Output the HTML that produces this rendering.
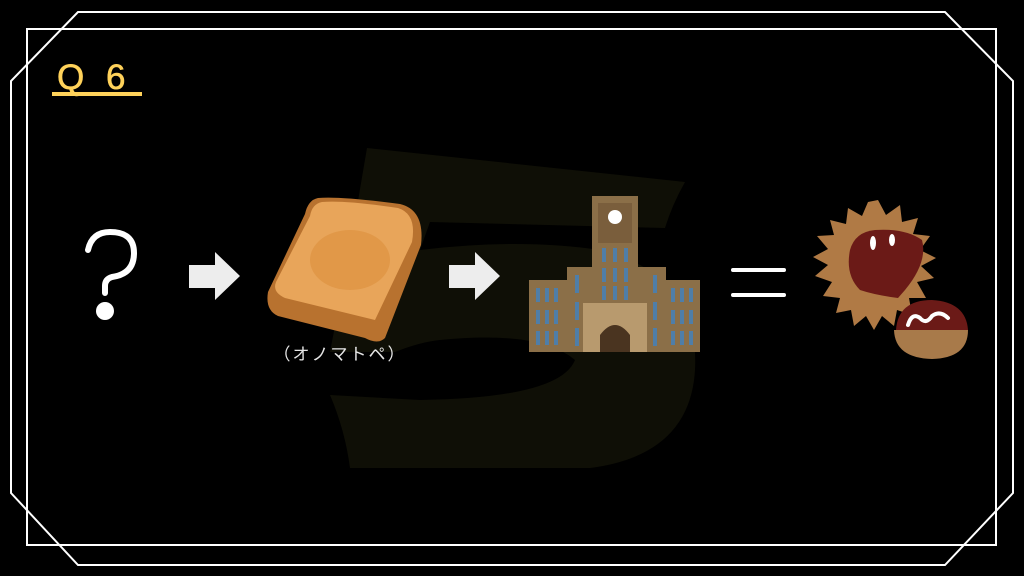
<!DOCTYPE html>
<html><head><meta charset="utf-8"><style>
html,body{margin:0;padding:0;background:#000;}
svg{display:block}
</style></head><body>
<svg width="1024" height="576" viewBox="0 0 1024 576" xmlns="http://www.w3.org/2000/svg">
<rect width="1024" height="576" fill="#000"/>
<!-- background 5 -->
<path d="M367 148 L685 182 Q672 205 665 228 L430 222 L420 250 Q520 238 600 250 Q700 275 695 370 Q690 455 590 468 L350 468 Q345 430 330 395 L420 400 Q560 398 575 360 Q540 330 440 340 Q420 342 395 352 L330 352 Q350 250 367 148 Z" fill="#0f0f06"/>
<!-- frames -->
<polygon points="78,12 945,12 1013,81 1013,493 945,565 78,565 11,493 11,81" fill="none" stroke="#fff" stroke-width="2"/>
<rect x="27" y="29" width="969" height="516" fill="none" stroke="#fff" stroke-width="2"/>
<!-- Q6 -->
<text x="57" y="89" font-family="Liberation Sans, sans-serif" font-size="35" fill="#ffd25a" stroke="#ffd25a" stroke-width="0.6" letter-spacing="6">Q 6</text>
<rect x="52" y="92" width="90" height="4" fill="#ffd25a"/>
<!-- question mark -->
<path d="M88 250 Q92 232 110 232 Q134 232 134 253 Q134 274 112 277 Q105 279 105 286 L105 293" fill="none" stroke="#fff" stroke-width="6" stroke-linecap="round"/>
<circle cx="105" cy="311" r="9" fill="#fff"/>
<!-- arrows -->
<polygon points="189,265 215,265 215,252 240,276 215,300 215,288 189,288" fill="#ededed"/>
<polygon points="449,265 475,265 475,252 500,276 475,300 475,288 449,288" fill="#ededed"/>
<!-- toast -->
<g>
<path d="M318 198 Q340 196 400 204 Q425 210 421 245 L385 338 Q378 345 365 338 L278 316 Q265 310 268 292 L305 214 Q308 200 318 198 Z" fill="#b8722f"/>
<path d="M322 202 Q345 200 398 208 Q417 214 412 242 L375 320 L285 298 Q272 292 276 282 L310 216 Q312 204 322 202 Z" fill="#e8a55a"/>
<ellipse cx="350" cy="260" rx="40" ry="30" fill="#dc8f3c" opacity="0.6"/>
</g>
<text x="340" y="360" text-anchor="middle" font-family="Liberation Sans, 'Noto Sans CJK JP', sans-serif" font-size="17" fill="#e6e6e6" letter-spacing="2">（オノマトペ）</text>
<!-- building -->
<g>
<rect x="529" y="280" width="171" height="72" fill="#8b6f48"/>
<rect x="567" y="267" width="99" height="85" fill="#8b6f48"/>
<rect x="592" y="196" width="46" height="156" fill="#8b6f48"/>
<rect x="598" y="203" width="34" height="40" fill="#7a5e3c"/>
<circle cx="615" cy="217" r="7" fill="#fff"/>
<rect x="583" y="303" width="64" height="49" fill="#b89a6e"/>
<path d="M600 352 L600 335 Q615 315 630 335 L630 352 Z" fill="#4a3420"/>
<g fill="#4f7ea8">
<rect x="536" y="288" width="4" height="14"/><rect x="545" y="288" width="4" height="14"/><rect x="554" y="288" width="4" height="14"/>
<rect x="536" y="310" width="4" height="14"/><rect x="545" y="310" width="4" height="14"/><rect x="554" y="310" width="4" height="14"/>
<rect x="536" y="331" width="4" height="14"/><rect x="545" y="331" width="4" height="14"/><rect x="554" y="331" width="4" height="14"/>
<rect x="671" y="288" width="4" height="14"/><rect x="680" y="288" width="4" height="14"/><rect x="689" y="288" width="4" height="14"/>
<rect x="671" y="310" width="4" height="14"/><rect x="680" y="310" width="4" height="14"/><rect x="689" y="310" width="4" height="14"/>
<rect x="671" y="331" width="4" height="14"/><rect x="680" y="331" width="4" height="14"/><rect x="689" y="331" width="4" height="14"/>
<rect x="575" y="275" width="4" height="18"/><rect x="575" y="302" width="4" height="18"/><rect x="575" y="328" width="4" height="18"/>
<rect x="653" y="275" width="4" height="18"/><rect x="653" y="302" width="4" height="18"/><rect x="653" y="328" width="4" height="18"/>
<rect x="602" y="248" width="4" height="14"/><rect x="613" y="248" width="4" height="14"/><rect x="624" y="248" width="4" height="14"/>
<rect x="602" y="268" width="4" height="14"/><rect x="613" y="268" width="4" height="14"/><rect x="624" y="268" width="4" height="14"/>
<rect x="602" y="286" width="4" height="14"/><rect x="613" y="286" width="4" height="14"/><rect x="624" y="286" width="4" height="14"/>
</g>
</g>
<!-- equals -->
<rect x="731" y="268" width="55" height="4" rx="2" fill="#fff"/>
<rect x="731" y="293" width="55" height="4" rx="2" fill="#fff"/>
<!-- chestnut -->
<polygon fill="#b07a45" points="878,200 886,215 900,205 902,222 918,218 913,234 930,236 920,250 936,258 921,266 934,278 917,282 926,298 909,298 912,315 897,310 894,326 882,316 874,330 866,316 854,326 851,310 836,313 840,298 823,296 832,282 815,276 828,265 813,257 828,249 817,236 834,235 830,220 846,224 848,208 862,216 868,202"/>
<path d="M850 250 Q855 232 875 230 Q905 228 922 240 Q928 262 905 290 L898 298 Q875 295 860 290 Q845 275 850 250 Z" fill="#6b1a17"/>
<path d="M896 330 Q898 300 932 300 Q966 302 968 330 Z" fill="#6b1a17"/>
<path d="M894 330 L968 330 Q968 358 932 359 Q895 358 894 330 Z" fill="#a87a4a"/>
<path d="M908 325 Q912 312 920 318 Q926 325 932 316 Q940 310 948 318" fill="none" stroke="#fff" stroke-width="4" stroke-linecap="round"/>
<ellipse cx="873" cy="243" rx="3" ry="7" fill="#fff"/>
<ellipse cx="892" cy="240" rx="3" ry="6" fill="#fff"/>
</svg>
</body></html>
